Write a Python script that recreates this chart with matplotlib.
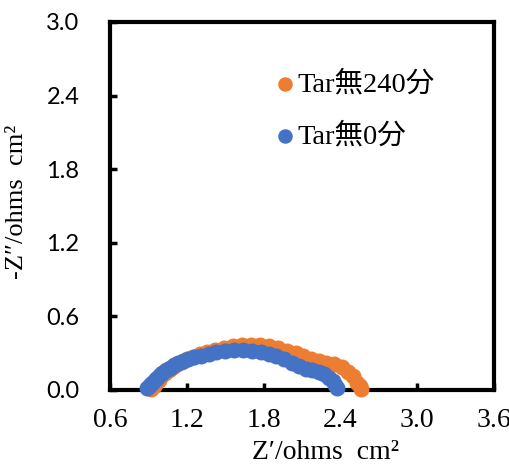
import matplotlib.pyplot as plt

# Nyquist data
x_240 = [0.92, 0.94, 0.96, 0.98, 1.00, 1.03, 1.06, 1.09, 1.12, 1.16, 1.20, 1.25,
         1.30, 1.36, 1.42, 1.49, 1.56, 1.63, 1.70, 1.77, 1.84, 1.91, 1.98, 2.05,
         2.11, 2.17, 2.23, 2.29, 2.35, 2.41, 2.46, 2.50, 2.53, 2.55, 2.56]
y_240 = [0.01, 0.03, 0.06, 0.08, 0.11, 0.14, 0.16, 0.19, 0.21, 0.23, 0.25, 0.27,
         0.29, 0.31, 0.33, 0.345, 0.36, 0.37, 0.37, 0.365, 0.355, 0.34, 0.32, 0.30,
         0.28, 0.255, 0.235, 0.22, 0.21, 0.19, 0.15, 0.11, 0.06, 0.03, 0.01]

x_0 = [0.89, 0.91, 0.93, 0.95, 0.97, 0.99, 1.01, 1.04, 1.07, 1.10, 1.13, 1.17,
       1.21, 1.26, 1.31, 1.37, 1.43, 1.50, 1.57, 1.64, 1.71, 1.78, 1.84, 1.90,
       1.96, 2.02, 2.08, 2.13, 2.18, 2.23, 2.27, 2.31, 2.34, 2.36, 2.37]
y_0 = [0.02, 0.04, 0.06, 0.08, 0.10, 0.12, 0.14, 0.16, 0.18, 0.20, 0.22, 0.235,
       0.25, 0.265, 0.28, 0.295, 0.31, 0.32, 0.33, 0.33, 0.32, 0.31, 0.295, 0.275,
       0.25, 0.22, 0.195, 0.175, 0.16, 0.15, 0.13, 0.10, 0.07, 0.04, 0.02]

labels = ['Tar無240分', 'Tar無0分']
xticks = [0.6, 1.2, 1.8, 2.4, 3.0, 3.6]
yticks = [0.0, 0.6, 1.2, 1.8, 2.4, 3.0]

serif = ['Liberation Serif', 'Noto Sans CJK JP', 'DejaVu Sans']

fig = plt.figure(figsize=(5.1, 4.68), dpi=100)
ax = fig.add_axes([0.2157, 0.1667, 0.7529, 0.7863])

ax.scatter(x_240, y_240, s=110, color='#ED7D31', label=labels[0], zorder=3, clip_on=False)
ax.scatter(x_0, y_0, s=110, color='#4472C4', label=labels[1], zorder=4, clip_on=False)

ax.set_xlim(0.6, 3.6)
ax.set_ylim(0.0, 3.0)
ax.set_xticks(xticks)
ax.set_yticks(yticks)
ax.set_xticklabels([f'{v:.1f}' for v in xticks], family=serif, fontsize=20)
ax.set_yticklabels([f'{v:.1f}' for v in yticks], family='Lato', fontsize=17)

ax.tick_params(axis='both', direction='in', length=5, width=2.5)
ax.tick_params(axis='y', pad=22)
ax.tick_params(axis='x', pad=13)
for sp in ax.spines.values():
    sp.set_linewidth(3)

ax.set_xlabel('Z′/ohms  cm²', family=serif, fontsize=20)
ax.xaxis.set_label_coords(0.56, -0.135)
ax.set_ylabel('-Z″/ohms  cm²', family=serif, fontsize=19)
ax.yaxis.set_label_coords(-0.213, 0.512)

ax.legend(loc='upper left', bbox_to_anchor=(0.426, 0.867), frameon=False,
          prop={'family': serif, 'size': 20.5}, handlelength=0.8,
          handletextpad=0.05, labelspacing=0.9, borderpad=0, borderaxespad=0,
          markerscale=0.9)

fig.savefig('out.png', dpi=100)
